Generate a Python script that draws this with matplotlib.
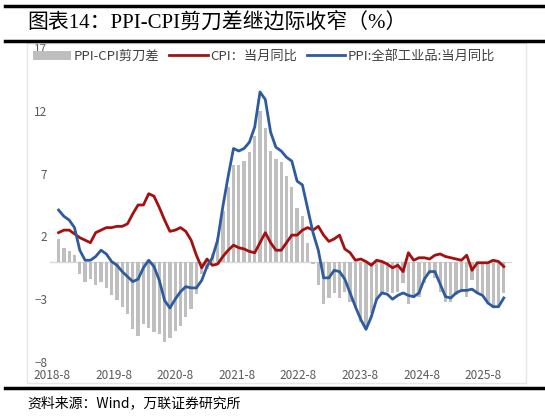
import matplotlib.pyplot as plt
import matplotlib.patches as mpatches
import numpy as np

plt.rcParams['font.family'] = ['Noto Sans CJK SC', 'DejaVu Sans']

# monthly data 2018-8 .. 2025-8
cpi = [2.3, 2.5, 2.5, 2.2, 1.9,
       1.7, 1.5, 2.3, 2.5, 2.7, 2.7, 2.8, 2.8, 3.0, 3.8, 4.5, 4.5,
       5.4, 5.2, 4.3, 3.3, 2.4, 2.5, 2.7, 2.4, 1.7, 0.5, -0.5, 0.2,
       -0.3, -0.2, 0.4, 0.9, 1.3, 1.1, 1.0, 0.8, 0.7, 1.5, 2.3, 1.5,
       0.9, 0.9, 1.5, 2.1, 2.1, 2.5, 2.7, 2.5, 2.8, 2.1, 1.6, 1.8,
       2.1, 1.0, 0.7, 0.1, 0.2, 0.0, -0.3, 0.1, 0.0, -0.2, -0.5, -0.3,
       -0.8, 0.7, 0.1, 0.3, 0.3, 0.2, 0.5, 0.6, 0.4, 0.3, 0.2, 0.1,
       0.5, -0.7, -0.1, -0.1, -0.1, 0.1, 0.0, -0.4]
ppi = [4.1, 3.6, 3.3, 2.7, 0.9,
       0.1, 0.1, 0.4, 0.9, 0.6, 0.0, -0.3, -0.8, -1.2, -1.6, -1.4, -0.5,
       0.1, -0.4, -1.5, -3.1, -3.7, -3.0, -2.4, -2.0, -2.1, -2.1, -1.5, -0.4,
       0.3, 1.7, 4.4, 6.8, 9.0, 8.8, 9.0, 9.5, 10.7, 13.5, 12.9, 10.3,
       9.1, 8.8, 8.3, 8.0, 6.4, 6.1, 4.2, 2.3, 0.9, -1.3, -1.3, -0.7,
       -0.8, -1.4, -2.5, -3.6, -4.6, -5.4, -4.4, -3.0, -2.5, -2.6, -3.0, -2.7,
       -2.5, -2.7, -2.8, -2.5, -1.4, -0.8, -0.8, -1.8, -2.8, -2.9, -2.5, -2.3,
       -2.3, -2.2, -2.5, -2.7, -3.3, -3.6, -3.6, -2.9]
spread = np.array(ppi) - np.array(cpi)
xlabels = ['2018-8', '2019-8', '2020-8', '2021-8', '2022-8', '2023-8', '2024-8', '2025-8']
yticks = [-8, -3, 2, 7, 12, 17]

W, H = 545, 419
fig = plt.figure(figsize=(W / 100, H / 100), dpi=100)

# axes placed in pixel terms
L, R, T, B = 50, 512, 48, 362
ax = fig.add_axes([L / W, 1 - B / H, (R - L) / W, (B - T) / H])

x = np.arange(len(cpi))
step = 5.3
ax.set_xlim((L - 58.6) / step, (R - 58.6) / step)
ax.set_ylim(-8, 17)

ax.axhline(0, color='#D9D9D9', lw=1, zorder=1)
bars = ax.bar(x, spread, width=0.62, color='#BFBFBF', zorder=2)
l1, = ax.plot(x, cpi, color='#A50F0F', lw=2, zorder=3)
l2, = ax.plot(x, ppi, color='#2D5B9E', lw=2, zorder=4)

xt = [(52 + k * 61.6 - 58.6) / step for k in range(len(xlabels))]
ax.set_xticks(xt)
ax.set_xticklabels(xlabels)
ax.set_yticks(yticks)
for s in ax.spines.values():
    s.set_visible(False)
ax.tick_params(length=0, labelsize=8.5, labelcolor='#595959')
ax.tick_params(axis='y', pad=2)
ax.tick_params(axis='x', pad=5)

leg = ax.legend([bars, l1, l2], ['PPI-CPI剪刀差', 'CPI：当月同比', 'PPI:全部工业品:当月同比'],
                loc='upper left', bbox_to_anchor=(33 / W, 1 - 50 / H), bbox_transform=fig.transFigure,
                ncol=3, frameon=False, fontsize=9.5, handlelength=2.9, handleheight=0.7,
                handletextpad=0.2, columnspacing=0.75, borderaxespad=0, borderpad=0)
for t in leg.get_texts():
    t.set_color('#404040')

# chart frame and black rules
fig.patches.append(mpatches.Rectangle((27 / W, 1 - 383 / H), (526 - 27) / W, (383 - 43) / H,
                                      transform=fig.transFigure, fill=False, ec='#E6E6E6', lw=1))
for yy, lw in [(6, 2.5), (41, 2.5), (388, 2.5)]:
    fig.add_artist(plt.Line2D([5 / W, 1], [1 - yy / H] * 2, color='black', lw=lw))

fig.text(27 / W, 1 - 22 / H, '图表14：PPI-CPI剪刀差继边际收窄（%）', fontsize=15,
         family=['Liberation Serif', 'Noto Sans CJK SC'], va='center', ha='left')
fig.text(27 / W, 1 - 403 / H, '资料来源：Wind，万联证券研究所', fontsize=10, style='italic',
         family=['Noto Sans CJK SC', 'DejaVu Sans'], va='center', ha='left')

fig.savefig('out.png', dpi=100)
